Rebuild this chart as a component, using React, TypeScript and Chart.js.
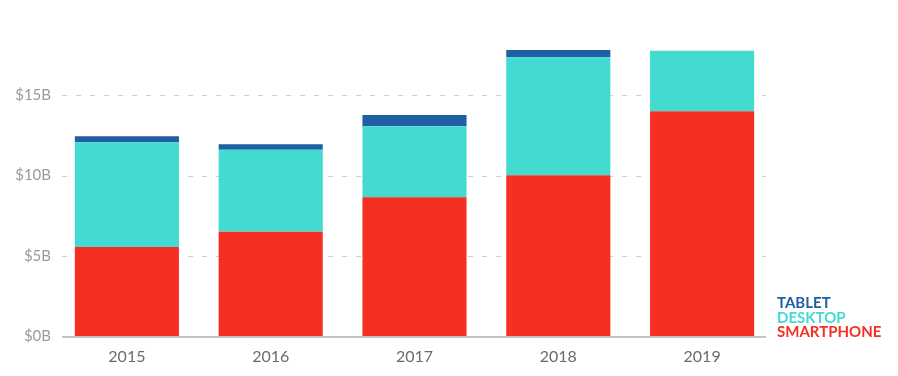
import React, { useEffect, useRef } from "react";
import { Chart, registerables } from "chart.js";

Chart.register(...registerables);

const years = ["2015", "2016", "2017", "2018", "2019"];
const smartphone = [5.54, 6.49, 8.65, 10.02, 14.0];
const desktop = [6.53, 5.11, 4.42, 7.34, 3.78];
const tablet = [0.38, 0.35, 0.7, 0.46, 0];
const yTicks = [0, 5, 10, 15];
const legendItems = [
  { label: "TABLET", color: "#1f5fa3" },
  { label: "DESKTOP", color: "#43dbd1" },
  { label: "SMARTPHONE", color: "#f52f22" },
];

const gridPlugin = {
  id: "customGrid",
  beforeDatasetsDraw(chart: any) {
    const { ctx, chartArea, scales } = chart;
    const x0 = chartArea.left + 7;
    const x1 = chartArea.right - 8;
    ctx.save();
    ctx.strokeStyle = "#cfcfcf";
    ctx.lineWidth = 1;
    ctx.setLineDash([5, 9]);
    yTicks.forEach((v) => {
      if (v === 0) return;
      const y = Math.round(scales.y.getPixelForValue(v)) + 0.5;
      ctx.beginPath();
      ctx.moveTo(x0, y);
      ctx.lineTo(x1, y);
      ctx.stroke();
    });
    ctx.restore();
  },
  afterDatasetsDraw(chart: any) {
    const { ctx, chartArea, scales } = chart;
    const y = scales.y.getPixelForValue(0) + 1;
    ctx.save();
    ctx.strokeStyle = "#c4c4c4";
    ctx.lineWidth = 2;
    ctx.beginPath();
    ctx.moveTo(chartArea.left + 7, y);
    ctx.lineTo(chartArea.right - 8, y);
    ctx.stroke();
    ctx.restore();
  },
};

export default function App() {
  const ref = useRef<HTMLCanvasElement | null>(null);

  useEffect(() => {
    if (!ref.current) return;
    const chart = new Chart(ref.current, {
      type: "bar",
      data: {
        labels: years,
        datasets: [
          { label: "SMARTPHONE", data: smartphone, backgroundColor: "#f52f22" },
          { label: "DESKTOP", data: desktop, backgroundColor: "#43dbd1" },
          { label: "TABLET", data: tablet, backgroundColor: "#1f5fa3" },
        ],
      },
      plugins: [gridPlugin],
      options: {
        animation: false,
        responsive: false,
        maintainAspectRatio: false,
        layout: { padding: { top: 15, right: 124, left: 0, bottom: 0 } },
        plugins: { legend: { display: false }, tooltip: { enabled: false } },
        datasets: { bar: { categoryPercentage: 0.724, barPercentage: 1 } },
        scales: {
          x: {
            stacked: true,
            grid: { display: false },
            border: { display: false },
            ticks: {
              color: "#6b6b6b",
              font: { family: "Lato", size: 16 },
              padding: 3,
            },
            afterFit: (s: any) => {
              s.height = 40;
            },
          },
          y: {
            stacked: true,
            min: 0,
            max: 20,
            afterBuildTicks: (s: any) => {
              s.ticks = yTicks.map((v) => ({ value: v }));
            },
            grid: { display: false, drawTicks: false },
            border: { display: false },
            ticks: {
              color: "#9a9a9a",
              font: { family: "Lato", size: 15 },
              padding: 4,
              callback: (v: any) => "$" + v + "B",
            },
            afterFit: (s: any) => {
              s.width = 55;
            },
          },
        },
      } as any,
    });
    return () => chart.destroy();
  }, []);

  return (
    <div style={{ position: "absolute", left: 0, top: 0, width: 898, height: 376, background: "#fff" }}>
      <canvas ref={ref} width={898} height={376} style={{ display: "block" }} />
      <div
        style={{
          position: "absolute",
          left: 777,
          top: 295,
          fontFamily: "Lato, 'Open Sans', sans-serif",
          fontWeight: 700,
          fontSize: 15,
          lineHeight: "14.5px",
        }}
      >
        {legendItems.map((it) => (
          <div key={it.label} style={{ color: it.color }}>
            {it.label}
          </div>
        ))}
      </div>
    </div>
  );
}
